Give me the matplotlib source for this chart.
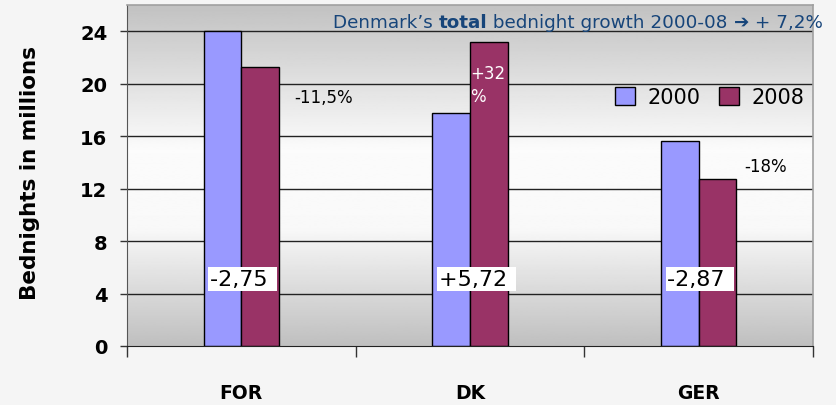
import matplotlib
matplotlib.use("Agg")
import matplotlib.pyplot as plt
import numpy as np

# bednights per market, millions
markets = ["FOR", "DK", "GER"]
years = ["2000", "2008"]
nights_2000 = [24.0, 17.8, 15.6]
nights_2008 = [21.25, 23.15, 12.7]
change_abs = ["-2,75", "+5,72", "-2,87"]
change_pct = ["-11,5%", "+32\n%", "-18%"]
yticks = [0, 4, 8, 12, 16, 20, 24]

c2000 = "#9999ff"
c2008 = "#993366"
bg = "#f5f5f5"
blue = "#17457a"

fig = plt.figure(figsize=(8.37, 4.06), dpi=100, facecolor=bg)
ax = fig.add_axes([127/837, 59/406, 686/837, 341/406])
ax.set_xlim(-0.5, 2.5)
ax.set_ylim(0, 26)

# grey-white-grey gradient plot area
grad = np.interp(np.linspace(0, 26, 300), [0, 9, 15, 26], [0.75, 0.975, 0.985, 0.76])
ax.imshow(grad[:, None], extent=[-0.5, 2.5, 0, 26], origin="lower", aspect="auto",
          cmap="gray", vmin=0, vmax=1, zorder=0)

for y in yticks[1:]:
    ax.axhline(y, color="#222222", lw=1.0, zorder=1)

x = np.arange(len(markets))
w = 0.164
ax.bar(x - w/2, nights_2000, w, color=c2000, edgecolor="black", lw=1.0, label=years[0], zorder=2)
ax.bar(x + w/2, nights_2008, w, color=c2008, edgecolor="black", lw=1.0, label=years[1], zorder=2)

# absolute change boxes
for i, s in enumerate(change_abs):
    ax.text(i - 0.137, 5.1, s + " ", fontsize=16, ha="left", va="center", zorder=4,
            bbox=dict(boxstyle="square,pad=0.08", fc="white", ec="none"))

# percent change notes
ax.text(0 + 0.23, 19.0, change_pct[0], fontsize=12, ha="left", va="center", zorder=4)
ax.text(1 + 0.002, 19.95, change_pct[1], fontsize=12, ha="left", va="center", color="white",
        linespacing=1.35, zorder=4)
ax.text(2 + 0.2, 13.7, change_pct[2], fontsize=12, ha="left", va="center", zorder=4)

leg = ax.legend(loc="upper right", bbox_to_anchor=(1.0, 0.785), ncol=2, frameon=False,
                fontsize=15, handlelength=0.95, handleheight=0.95, handletextpad=0.6,
                columnspacing=0.9, borderaxespad=0.0)

ax.set_yticks(yticks)
ax.set_yticklabels([str(v) for v in yticks], fontsize=14, fontweight="bold")
ax.tick_params(axis="y", length=5, width=1, pad=9, color="#333333")

ax.set_xticks([-0.5, 0.5, 1.5, 2.5])
ax.set_xticklabels([])
ax.tick_params(axis="x", which="major", direction="out", length=8, width=1, color="#333333")
ax.set_xticks(x, minor=True)
ax.set_xticklabels(markets, minor=True, fontsize=13.5, fontweight="bold")
ax.tick_params(axis="x", which="minor", length=0, pad=27)

for side in ["top", "right"]:
    ax.spines[side].set_color("#a0a0a0")
    ax.spines[side].set_linewidth(1.2)
ax.spines["left"].set_color("#555555")
ax.spines["bottom"].set_color("#222222")

fig.text(30/837, 0.575, "Bednights in millions", rotation=90, ha="center", va="center",
         fontsize=15.5, fontweight="bold")

# headline with bold word, placed piece by piece
parts = [("Denmark\u2019s ", "normal"), ("total", "bold"),
         (" bednight growth 2000-08 ", "normal"), ("\u2794", "bold"), (" + 7,2%", "normal")]
prev = fig.text(333/837, 1 - 28/406, parts[0][0], color=blue, fontsize=13.2,
                fontweight=parts[0][1], va="baseline", ha="left")
for s, wt in parts[1:]:
    prev = ax.annotate(s, xy=(1, 0), xycoords=prev, va="bottom", ha="left",
                       color=blue, fontsize=13.2, fontweight=wt, annotation_clip=False)

fig.savefig("out.png", dpi=100, facecolor=bg)
